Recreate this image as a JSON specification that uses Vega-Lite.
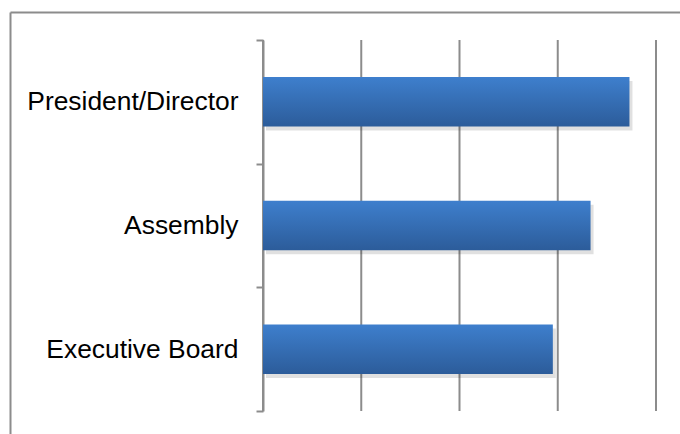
{
  "$schema": "https://vega.github.io/schema/vega-lite/v6.json",
  "width": 670,
  "height": 422,
  "autosize": {"type": "none"},
  "padding": {"left": 10, "top": 12, "right": 0, "bottom": 0},
  "background": "white",
  "config": {"view": {"stroke": null}, "font": "Liberation Sans"},
  "datasets": {
    "bars": [
      {"role": "President/Director", "value": 3.73},
      {"role": "Assembly", "value": 3.334},
      {"role": "Executive Board", "value": 2.95}
    ],
    "grid": [{"g": 0}, {"g": 1}, {"g": 2}, {"g": 3}, {"g": 4}]
  },
  "layer": [
    {
      "data": {"values": [{"f": 0}]},
      "mark": {"type": "point", "opacity": 0},
      "encoding": {
        "x": {"field": "f", "type": "quantitative", "scale": {"domain": [0, 1]},
          "axis": {"orient": "top", "domain": true, "domainColor": "#8c8c8c", "domainWidth": 2, "ticks": false, "labels": false, "grid": false, "title": null}},
        "y": {"field": "f", "type": "quantitative", "scale": {"domain": [0, 1]},
          "axis": {"orient": "left", "domain": true, "domainColor": "#8c8c8c", "domainWidth": 2, "ticks": false, "labels": false, "grid": false, "title": null}}
      }
    },
    {
      "data": {"name": "grid"},
      "mark": {"type": "rule", "color": "#8c8c8c", "strokeWidth": 2},
      "encoding": {
        "x": {"field": "g", "type": "quantitative", "scale": {"domain": [0, 4], "range": [253, 646]}, "axis": null},
        "y": {"datum": 0, "type": "quantitative", "scale": {"domain": [0, 1], "range": [28, 399]}, "axis": null},
        "y2": {"datum": 1}
      }
    },
    {
      "data": {"name": "bars"},
      "mark": {"type": "bar", "color": "#000000", "opacity": 0.12, "xOffset": 3, "yOffset": 4, "height": {"band": 0.4}},
      "encoding": {
        "x": {"field": "value", "type": "quantitative", "scale": {"domain": [0, 4], "range": [253, 646]}, "axis": null},
        "y": {"field": "role", "type": "nominal", "sort": null,
          "scale": {"range": [28, 399], "paddingInner": 0, "paddingOuter": 0}, "axis": null}
      }
    },
    {
      "data": {"name": "bars"},
      "mark": {"type": "bar", "height": {"band": 0.4}, "color": {"gradient": "linear", "x1": 0, "y1": 0, "x2": 0, "y2": 1,
        "stops": [{"offset": 0, "color": "#3e7fcd"}, {"offset": 1, "color": "#2c5c9a"}]}},
      "encoding": {
        "x": {"field": "value", "type": "quantitative", "scale": {"domain": [0, 4], "range": [253, 646]}, "axis": null},
        "y": {"field": "role", "type": "nominal", "sort": null,
          "scale": {"range": [28, 399], "paddingInner": 0, "paddingOuter": 0},
          "axis": {"orient": "left", "offset": -253, "title": null, "tickBand": "extent", "domainColor": "#8c8c8c", "domainWidth": 2,
            "tickColor": "#8c8c8c", "tickWidth": 2, "tickSize": 7, "labelPadding": 18, "labelFontSize": 26.4, "labelColor": "#000000",
            "labelFont": "Liberation Sans", "labelLimit": 0, "grid": false}}
      }
    }
  ],
  "resolve": {"scale": {"x": "independent", "y": "independent"}, "axis": {"x": "independent", "y": "independent"}}
}
